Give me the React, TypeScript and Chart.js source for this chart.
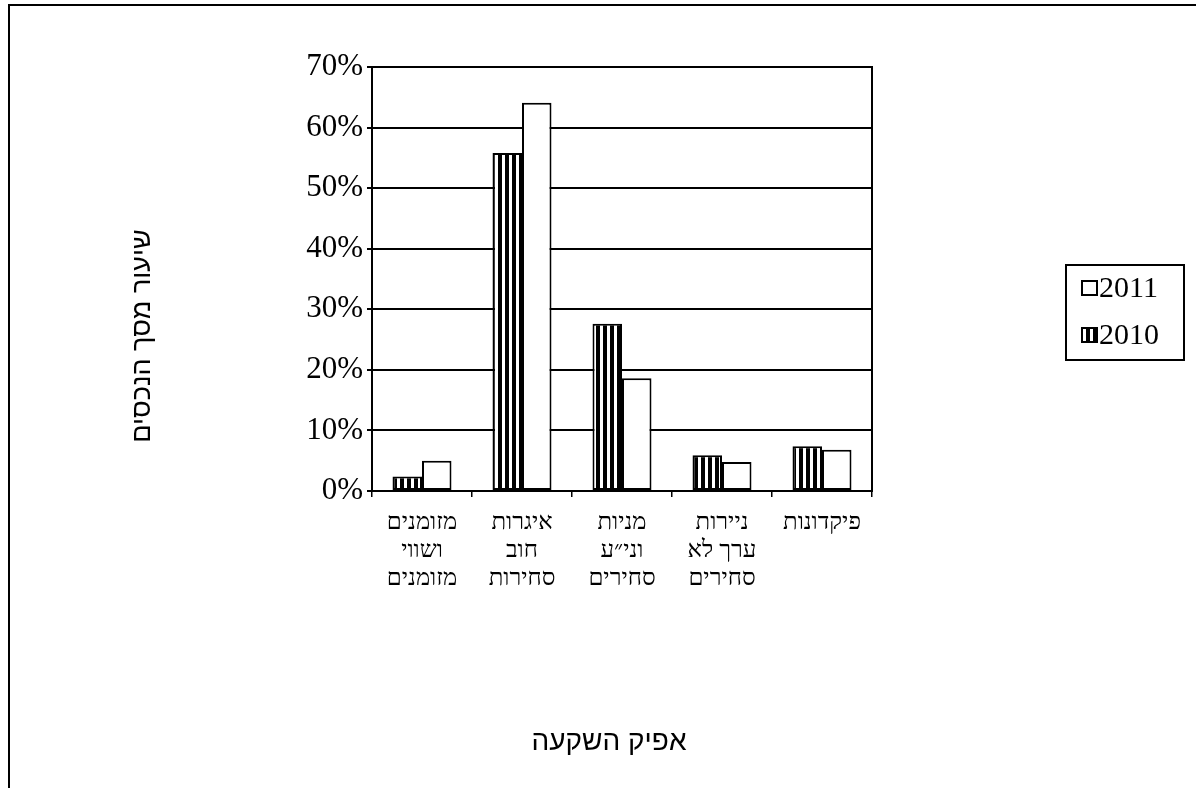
import React, { useEffect, useRef } from "react";
import { Chart, registerables } from "chart.js";

Chart.register(...registerables);

const categories: string[][] = [
  ["מזומנים", "ושווי", "מזומנים"],
  ["איגרות", "חוב", "סחירות"],
  ["מניות", "וני״ע", "סחירים"],
  ["ניירות", "ערך לא", "סחירים"],
  ["פיקדונות"],
];
const values2010 = [2.4, 55.8, 27.6, 5.9, 7.4];
const values2011 = [5.0, 64.1, 18.6, 4.8, 6.8];
const seriesLabels = ["2010", "2011"];
const yMax = 70;
const yStep = 10;
const xTitle = "אפיק השקעה";
const yTitle = "שיעור מסך הנכסים";

const SERIF = "'Liberation Serif', 'Times New Roman', serif";
const SANS = "'Liberation Sans', Arial, sans-serif";

function makeStripes(): CanvasPattern | string {
  const c = document.createElement("canvas");
  c.width = 7;
  c.height = 8;
  const g = c.getContext("2d");
  if (!g) return "#000";
  g.fillStyle = "#fff";
  g.fillRect(0, 0, 7, 8);
  g.fillStyle = "#000";
  g.fillRect(1, 0, 4, 8);
  return g.createPattern(c, "repeat") || "#000";
}

const decor = {
  id: "decor",
  beforeDraw(chart: any) {
    const ctx = chart.ctx as CanvasRenderingContext2D;
    ctx.save();
    ctx.fillStyle = "#fff";
    ctx.fillRect(0, 0, chart.width, chart.height);
    ctx.strokeStyle = "#000";
    ctx.lineWidth = 2;
    ctx.beginPath();
    ctx.moveTo(9, chart.height);
    ctx.lineTo(9, 5);
    ctx.lineTo(chart.width, 5);
    ctx.stroke();
    ctx.restore();
  },
  afterDraw(chart: any) {
    const ctx = chart.ctx as CanvasRenderingContext2D;
    const a = chart.chartArea;
    ctx.save();
    // plot frame
    ctx.strokeStyle = "#000";
    ctx.lineWidth = 2;
    ctx.strokeRect(a.left, a.top, a.right - a.left, a.bottom - a.top);

    // axis titles
    ctx.fillStyle = "#000";
    ctx.textAlign = "center";
    ctx.textBaseline = "middle";
    ctx.font = "28px " + SANS;
    ctx.fillText(xTitle, 609, 742);
    ctx.font = "27px " + SANS;
    ctx.save();
    ctx.translate(143, 336);
    ctx.rotate(-Math.PI / 2);
    ctx.fillText(yTitle, 0, 0);
    ctx.restore();

    // legend
    ctx.lineWidth = 2;
    ctx.strokeRect(1066, 265, 118, 95);
    const ds = chart.data.datasets;
    const items = [ds[1], ds[0]];
    const rowsY = [288, 335];
    ctx.font = "30px " + SERIF;
    ctx.textAlign = "left";
    ctx.textBaseline = "alphabetic";
    items.forEach((d: any, i: number) => {
      const y = rowsY[i];
      ctx.fillStyle = d.backgroundColor;
      ctx.fillRect(1082, y - 7, 15, 14);
      ctx.lineWidth = 2;
      ctx.strokeStyle = "#000";
      ctx.strokeRect(1082, y - 7, 15, 14);
      ctx.fillStyle = "#000";
      ctx.fillText(d.label, 1099, y + 9);
    });
    ctx.restore();
  },
};

export default function App() {
  const ref = useRef<HTMLCanvasElement | null>(null);
  useEffect(() => {
    if (!ref.current) return;
    const stripes = makeStripes();
    const chart = new Chart(ref.current, {
      type: "bar",
      data: {
        labels: categories,
        datasets: [
          {
            label: seriesLabels[0],
            data: values2010,
            backgroundColor: stripes as any,
            borderColor: "#000",
            borderWidth: 2,
            borderSkipped: false,
          },
          {
            label: seriesLabels[1],
            data: values2011,
            backgroundColor: "#fff",
            borderColor: "#000",
            borderWidth: 2,
            borderSkipped: false,
          },
        ],
      },
      options: {
        animation: false,
        responsive: true,
        maintainAspectRatio: false,
        layout: { padding: { left: 0, right: 324, top: 67, bottom: 0 } },
        datasets: { bar: { categoryPercentage: 0.59, barPercentage: 1 } },
        plugins: {
          legend: { display: false },
          tooltip: { enabled: false },
          title: { display: false },
        },
        scales: {
          x: {
            offset: true,
            grid: {
              display: true,
              offset: true,
              drawOnChartArea: false,
              drawTicks: true,
              tickLength: 6,
              color: "#000",
              lineWidth: 1.5,
            },
            border: { display: true, color: "#000", width: 2 },
            ticks: {
              color: "#000",
              font: { family: SERIF, size: 24, lineHeight: 1.17 },
              padding: 12,
              maxRotation: 0,
              minRotation: 0,
              autoSkip: false,
            },
            afterFit: (scale: any) => {
              scale.height = 297;
            },
          },
          y: {
            min: 0,
            max: yMax,
            grid: {
              display: true,
              color: "#000",
              lineWidth: 2,
              drawTicks: true,
              tickLength: 5,
            },
            border: { display: true, color: "#000", width: 2 },
            ticks: {
              stepSize: yStep,
              color: "#000",
              font: { family: SERIF, size: 31 },
              padding: 4,
              callback: (v: any) => v + "%",
            },
            afterFit: (scale: any) => {
              scale.width = 372;
            },
          },
        },
      },
      plugins: [decor],
    });
    return () => chart.destroy();
  }, []);
  return (
    <div style={{ position: "absolute", left: 0, top: 0, width: 1196, height: 788 }}>
      <canvas ref={ref} />
    </div>
  );
}
